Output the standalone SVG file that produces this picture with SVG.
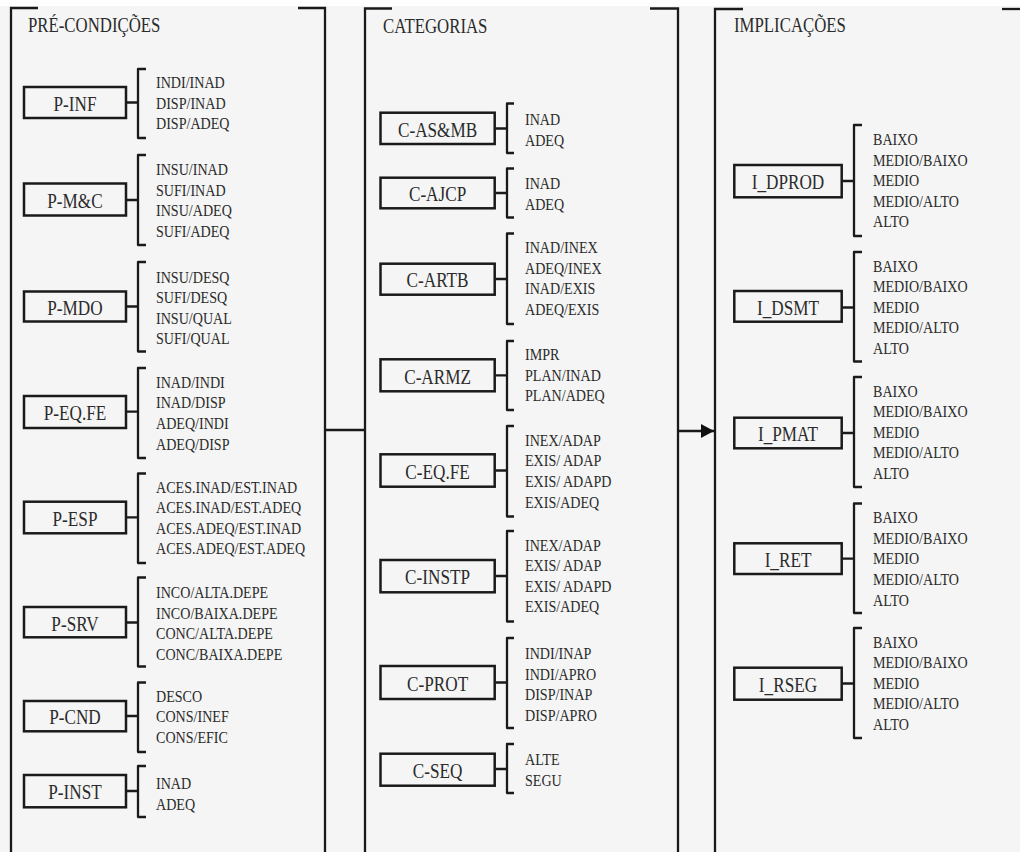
<svg xmlns="http://www.w3.org/2000/svg" width="1020" height="852" viewBox="0 0 1020 852">
<style>
text{font-family:'Liberation Serif','Times New Roman','DejaVu Serif',serif;fill:#2b2b2b}
.it{font-size:16px;transform-box:fill-box;transform-origin:0% 50%;transform:scaleX(0.88)}
.lb{font-size:20px;text-anchor:middle;transform-box:fill-box;transform-origin:50% 50%;transform:scaleX(0.86)}
.ti{font-size:20px;transform-box:fill-box;transform-origin:0% 50%;transform:scaleX(0.84)}
.bx{fill:none;stroke:#1a1a1a;stroke-width:2.5}
.ln{fill:none;stroke:#1a1a1a;stroke-width:2.3;stroke-linejoin:round}
.pn{fill:none;stroke:#1a1a1a;stroke-width:2.3}
</style>
<defs>
<marker id="ah" viewBox="0 0 13 14" refX="13" refY="7" markerWidth="13" markerHeight="14" markerUnits="userSpaceOnUse" orient="auto">
<path d="M0,0 L13,7 L0,14 Z" fill="#111"/>
</marker>
</defs>
<rect x="0" y="0" width="1020" height="852" fill="#f5f5f5"/>
<rect x="0" y="0" width="1020" height="6" fill="#ffffff"/>
<g font-family="Liberation Serif, Times New Roman, serif">
<g id="panel-pre">
<path class="pn" d="M38,8 H11 V852"/>
<path class="pn" d="M298,8 H325 V852"/>
<text class="ti" x="28" y="32">PRÉ-CONDIÇÕES</text>
</g>
<g id="panel-cat">
<path class="pn" d="M392,8.5 H365 V852"/>
<path class="pn" d="M650,8.5 H678 V852"/>
<text class="ti" x="383" y="33">CATEGORIAS</text>
</g>
<g id="panel-imp">
<path class="pn" d="M743,9 H715 V852"/>
<path class="pn" d="M1002,9 H1022"/>
<text class="ti" x="734" y="32.5">IMPLICAÇÕES</text>
</g>

<g id="connectors">
<path class="ln" d="M325,430 H365"/>
<path class="ln" d="M678,431 H714" marker-end="url(#ah)"/>
</g>

<g id="P-INF">
<rect class="bx" x="24" y="87" width="102" height="31"/>
<text class="lb" x="75" y="111">P-INF</text>
<path class="ln" d="M127,102.5 H138 M146,69 H138 V138 H146"/>
<text class="it" x="156" y="88.5">INDI/INAD</text>
<text class="it" x="156" y="109">DISP/INAD</text>
<text class="it" x="156" y="129.5">DISP/ADEQ</text>
</g>
<g id="P-MC">
<rect class="bx" x="24" y="183.5" width="102" height="32"/>
<text class="lb" x="75" y="208">P-M&amp;C</text>
<path class="ln" d="M127,200 H138 M146,155 H138 V245 H146"/>
<text class="it" x="156" y="175">INSU/INAD</text>
<text class="it" x="156" y="195.6">SUFI/INAD</text>
<text class="it" x="156" y="216.2">INSU/ADEQ</text>
<text class="it" x="156" y="236.8">SUFI/ADEQ</text>
</g>
<g id="P-MDO">
<rect class="bx" x="24" y="291.5" width="102" height="30"/>
<text class="lb" x="75" y="315">P-MDO</text>
<path class="ln" d="M127,306.5 H138 M146,262 H138 V351.5 H146"/>
<text class="it" x="156" y="282.7">INSU/DESQ</text>
<text class="it" x="156" y="303.3">SUFI/DESQ</text>
<text class="it" x="156" y="323.9">INSU/QUAL</text>
<text class="it" x="156" y="344.5">SUFI/QUAL</text>
</g>
<g id="P-EQFE">
<rect class="bx" x="24" y="396" width="102" height="32"/>
<text class="lb" x="75" y="420.5">P-EQ.FE</text>
<path class="ln" d="M127,411.7 H138 M146,368 H138 V458 H146"/>
<text class="it" x="156" y="387.7">INAD/INDI</text>
<text class="it" x="156" y="408.3">INAD/DISP</text>
<text class="it" x="156" y="429">ADEQ/INDI</text>
<text class="it" x="156" y="449.6">ADEQ/DISP</text>
</g>
<g id="P-ESP">
<rect class="bx" x="24" y="501.7" width="102" height="31.6"/>
<text class="lb" x="75" y="526">P-ESP</text>
<path class="ln" d="M127,517.3 H138 M146,473.5 H138 V563 H146"/>
<text class="it" x="156" y="492.7">ACES.INAD/EST.INAD</text>
<text class="it" x="156" y="513.3">ACES.INAD/EST.ADEQ</text>
<text class="it" x="156" y="533.9">ACES.ADEQ/EST.INAD</text>
<text class="it" x="156" y="554.5">ACES.ADEQ/EST.ADEQ</text>
</g>
<g id="P-SRV">
<rect class="bx" x="24" y="607" width="102" height="30.3"/>
<text class="lb" x="75" y="631">P-SRV</text>
<path class="ln" d="M127,622.5 H138 M146,577.5 H138 V666.5 H146"/>
<text class="it" x="156" y="598.3">INCO/ALTA.DEPE</text>
<text class="it" x="156" y="619">INCO/BAIXA.DEPE</text>
<text class="it" x="156" y="639.5">CONC/ALTA.DEPE</text>
<text class="it" x="156" y="660">CONC/BAIXA.DEPE</text>
</g>
<g id="P-CND">
<rect class="bx" x="24" y="701" width="102" height="30.3"/>
<text class="lb" x="75" y="724.5">P-CND</text>
<path class="ln" d="M127,716 H138 M146,682.5 H138 V752 H146"/>
<text class="it" x="156" y="701.7">DESCO</text>
<text class="it" x="156" y="722.5">CONS/INEF</text>
<text class="it" x="156" y="743.3">CONS/EFIC</text>
</g>
<g id="P-INST">
<rect class="bx" x="24" y="775" width="102" height="32.3"/>
<text class="lb" x="75" y="799.5">P-INST</text>
<path class="ln" d="M127,791 H138 M146,766 H138 V817 H146"/>
<text class="it" x="156" y="789.3">INAD</text>
<text class="it" x="156" y="810">ADEQ</text>
</g>

<g id="C-ASMB">
<rect class="bx" x="380.5" y="112.7" width="114.2" height="31.3"/>
<text class="lb" x="437.6" y="137">C-AS&amp;MB</text>
<path class="ln" d="M495.7,128.5 H507 M514,103.5 H507 V153 H514"/>
<text class="it" x="525" y="125">INAD</text>
<text class="it" x="525" y="145.6">ADEQ</text>
</g>
<g id="C-AJCP">
<rect class="bx" x="380.5" y="177.7" width="114.2" height="30.6"/>
<text class="lb" x="437.6" y="201.5">C-AJCP</text>
<path class="ln" d="M495.7,193 H507 M514,168.5 H507 V217.5 H514"/>
<text class="it" x="525" y="189.3">INAD</text>
<text class="it" x="525" y="210">ADEQ</text>
</g>
<g id="C-ARTB">
<rect class="bx" x="380.5" y="263.7" width="114.2" height="31"/>
<text class="lb" x="437.6" y="287.5">C-ARTB</text>
<path class="ln" d="M495.7,279 H507 M514,233.5 H507 V324 H514"/>
<text class="it" x="525" y="253.3">INAD/INEX</text>
<text class="it" x="525" y="274">ADEQ/INEX</text>
<text class="it" x="525" y="294.5">INAD/EXIS</text>
<text class="it" x="525" y="315">ADEQ/EXIS</text>
</g>
<g id="C-ARMZ">
<rect class="bx" x="380.5" y="359.3" width="114.2" height="32"/>
<text class="lb" x="437.6" y="383.8">C-ARMZ</text>
<path class="ln" d="M495.7,375.3 H507 M514,341 H507 V410 H514"/>
<text class="it" x="525" y="360">IMPR</text>
<text class="it" x="525" y="380.6">PLAN/INAD</text>
<text class="it" x="525" y="401.2">PLAN/ADEQ</text>
</g>
<g id="C-EQFE">
<rect class="bx" x="380.5" y="454.3" width="114.2" height="32.4"/>
<text class="lb" x="437.6" y="479">C-EQ.FE</text>
<path class="ln" d="M495.7,470.5 H507 M514,426 H507 V516.5 H514"/>
<text class="it" x="525" y="445.7">INEX/ADAP</text>
<text class="it" x="525" y="466.3">EXIS/ ADAP</text>
<text class="it" x="525" y="487">EXIS/ ADAPD</text>
<text class="it" x="525" y="507.6">EXIS/ADEQ</text>
</g>
<g id="C-INSTP">
<rect class="bx" x="380.5" y="560" width="114.2" height="32.3"/>
<text class="lb" x="437.6" y="584.5">C-INSTP</text>
<path class="ln" d="M495.7,576 H507 M514,531 H507 V621.5 H514"/>
<text class="it" x="525" y="550.7">INEX/ADAP</text>
<text class="it" x="525" y="571.3">EXIS/ ADAP</text>
<text class="it" x="525" y="592">EXIS/ ADAPD</text>
<text class="it" x="525" y="612.5">EXIS/ADEQ</text>
</g>
<g id="C-PROT">
<rect class="bx" x="380.5" y="666" width="114.2" height="33"/>
<text class="lb" x="437.6" y="691">C-PROT</text>
<path class="ln" d="M495.7,682.5 H507 M514,638 H507 V728 H514"/>
<text class="it" x="525" y="659.3">INDI/INAP</text>
<text class="it" x="525" y="680">INDI/APRO</text>
<text class="it" x="525" y="700.5">DISP/INAP</text>
<text class="it" x="525" y="721">DISP/APRO</text>
</g>
<g id="C-SEQ">
<rect class="bx" x="380.5" y="753.7" width="114.2" height="32"/>
<text class="lb" x="437.6" y="778">C-SEQ</text>
<path class="ln" d="M495.7,769 H507 M514,744 H507 V793 H514"/>
<text class="it" x="525" y="765.3">ALTE</text>
<text class="it" x="525" y="786">SEGU</text>
</g>

<g id="I_DPROD">
<rect class="bx" x="734.3" y="165" width="107.4" height="32.3"/>
<text class="lb" x="788" y="189.5">I_DPROD</text>
<path class="ln" d="M842.7,181 H854 M862,125 H854 V236 H862"/>
<text class="it" x="873" y="145">BAIXO</text>
<text class="it" x="873" y="165.6">MEDIO/BAIXO</text>
<text class="it" x="873" y="186.2">MEDIO</text>
<text class="it" x="873" y="206.8">MEDIO/ALTO</text>
<text class="it" x="873" y="227.4">ALTO</text>
</g>
<g id="I_DSMT">
<rect class="bx" x="734.3" y="291" width="107.4" height="30.7"/>
<text class="lb" x="788" y="315">I_DSMT</text>
<path class="ln" d="M842.7,307.5 H854 M862,252 H854 V361.5 H862"/>
<text class="it" x="873" y="271.7">BAIXO</text>
<text class="it" x="873" y="292.3">MEDIO/BAIXO</text>
<text class="it" x="873" y="312.9">MEDIO</text>
<text class="it" x="873" y="333.5">MEDIO/ALTO</text>
<text class="it" x="873" y="354">ALTO</text>
</g>
<g id="I_PMAT">
<rect class="bx" x="734.3" y="417.7" width="107.4" height="30.6"/>
<text class="lb" x="788" y="441.5">I_PMAT</text>
<path class="ln" d="M842.7,433 H854 M862,377 H854 V487 H862"/>
<text class="it" x="873" y="396.7">BAIXO</text>
<text class="it" x="873" y="417.3">MEDIO/BAIXO</text>
<text class="it" x="873" y="437.9">MEDIO</text>
<text class="it" x="873" y="458.5">MEDIO/ALTO</text>
<text class="it" x="873" y="479.1">ALTO</text>
</g>
<g id="I_RET">
<rect class="bx" x="734.3" y="543.3" width="107.4" height="30.7"/>
<text class="lb" x="788" y="567.3">I_RET</text>
<path class="ln" d="M842.7,558.7 H854 M862,503.5 H854 V613 H862"/>
<text class="it" x="873" y="523.3">BAIXO</text>
<text class="it" x="873" y="544">MEDIO/BAIXO</text>
<text class="it" x="873" y="564.5">MEDIO</text>
<text class="it" x="873" y="585">MEDIO/ALTO</text>
<text class="it" x="873" y="605.6">ALTO</text>
</g>
<g id="I_RSEG">
<rect class="bx" x="734.3" y="667.7" width="107.4" height="32"/>
<text class="lb" x="788" y="692">I_RSEG</text>
<path class="ln" d="M842.7,683.5 H854 M862,628 H854 V738 H862"/>
<text class="it" x="873" y="647.7">BAIXO</text>
<text class="it" x="873" y="668.3">MEDIO/BAIXO</text>
<text class="it" x="873" y="688.9">MEDIO</text>
<text class="it" x="873" y="709.5">MEDIO/ALTO</text>
<text class="it" x="873" y="730">ALTO</text>
</g>
</g>
</svg>
